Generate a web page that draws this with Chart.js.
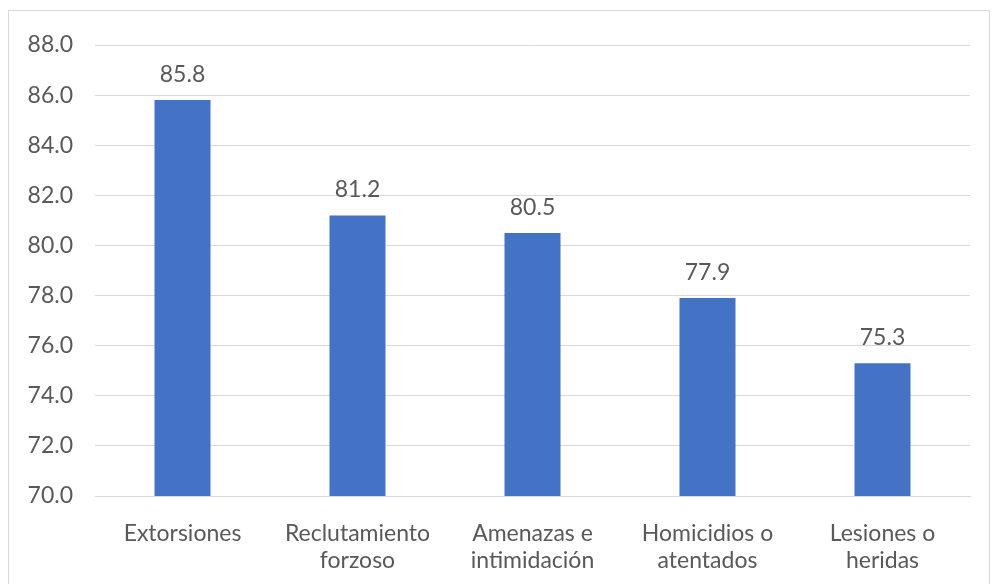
<!DOCTYPE html>
<html>
<head>
<meta charset="utf-8">
<script src="https://cdn.jsdelivr.net/npm/chart.js@4"></script>
<style>
    body { margin: 0; background: #fff; }
    #frame { position: absolute; left: 8px; top: 10px; width: 982px; height: 600px; border: 1px solid #d9d9d9; box-sizing: border-box; }
    #box { position: absolute; left: 0; top: 0; width: 992px; height: 584px; }
</style>
</head>
<body>
<div id="frame"></div>
<div id="box"><canvas id="CHART_Bars"></canvas></div>
<script>
const categories = ['Extorsiones', ['Reclutamiento', 'forzoso'], ['Amenazas e', 'intimidación'], ['Homicidios o', 'atentados'], ['Lesiones o', 'heridas']];
const values = [85.8, 81.2, 80.5, 77.9, 75.3];
const yMin = 70;
const yMax = 88;
const yStep = 2;

const FontColor = '#595959';
const BarColor = '#4472C4';
const GridColor = '#d9d9d9';
const FontName = 'Lato, "Noto Sans", sans-serif';

// numbers above the bars
const valueLabels = {
    id: 'valueLabels',
    afterDatasetsDraw(chart) {
        let ctx = chart.ctx;
        let meta = chart.getDatasetMeta(0);
        ctx.save();
        ctx.fillStyle = FontColor;
        ctx.font = '23px ' + FontName;
        ctx.textAlign = 'center';
        ctx.textBaseline = 'alphabetic';
        for (let i = 0; i < meta.data.length; i++) {
            let bar = meta.data[i];
            ctx.fillText(values[i].toFixed(1), bar.x, bar.y - 18);
        }
        ctx.restore();
    }
};

let chartHtml = document.getElementById('CHART_Bars').getContext('2d');

let chart = new Chart(chartHtml, {
    type: 'bar',
    data: {
        labels: categories,
        datasets: [{
            data: values,
            backgroundColor: BarColor,
            categoryPercentage: 1,
            barPercentage: 0.32,
        }]
    },
    options: {
        animation: false,
        responsive: true,
        maintainAspectRatio: false,
        layout: {
            padding: { left: 0, top: 45, right: 22, bottom: 0 }
        },
        plugins: {
            legend: { display: false },
            tooltip: { enabled: false }
        },
        scales: {
            x: {
                grid: { display: false },
                border: { color: GridColor, width: 1 },
                ticks: {
                    color: FontColor,
                    font: { family: FontName, size: 23, lineHeight: 1.18 },
                    padding: 16,
                    maxRotation: 0,
                    autoSkip: false
                },
                afterFit: (scale) => { scale.height = 88; }
            },
            y: {
                min: yMin,
                max: yMax,
                grid: { color: GridColor, lineWidth: 1, drawTicks: false },
                border: { display: false },
                ticks: {
                    stepSize: yStep,
                    color: FontColor,
                    font: { family: FontName, size: 23 },
                    padding: 22,
                    callback: (v) => v.toFixed(1)
                },
                afterFit: (scale) => { scale.width = 95; }
            }
        }
    },
    plugins: [valueLabels]
});
</script>
</body>
</html>
